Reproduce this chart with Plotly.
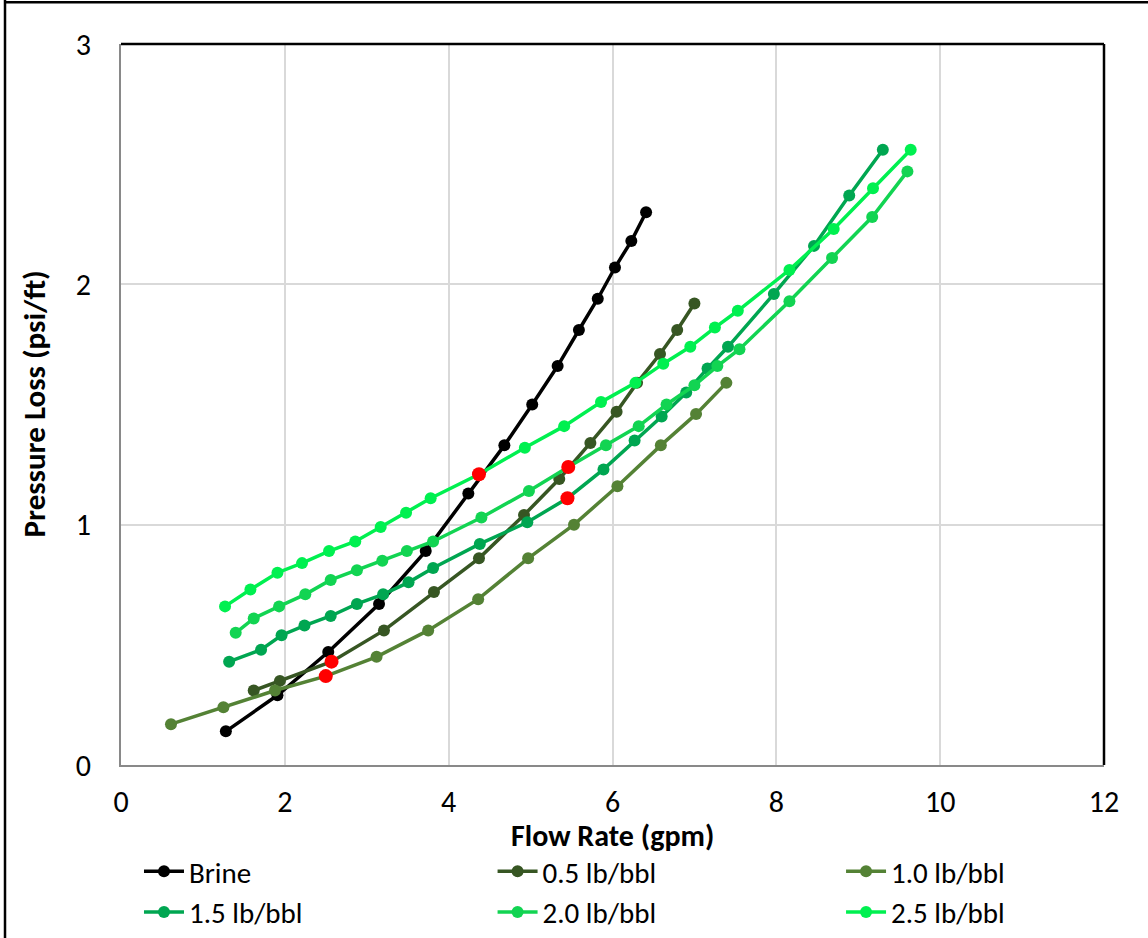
import plotly.graph_objects as go

# ---- data ----
brine_x = [1.28, 1.91, 2.53, 3.15, 3.72, 4.24, 4.68, 5.02, 5.33, 5.59, 5.82, 6.03, 6.23, 6.41]
brine_y = [0.14, 0.29, 0.47, 0.67, 0.89, 1.13, 1.33, 1.50, 1.66, 1.81, 1.94, 2.07, 2.18, 2.30]

p05_x = [1.62, 1.94, 2.57, 3.21, 3.82, 4.37, 4.92, 5.35, 5.73, 6.05, 6.30, 6.58, 6.79, 7.00]
p05_y = [0.31, 0.35, 0.43, 0.56, 0.72, 0.86, 1.04, 1.19, 1.34, 1.47, 1.59, 1.71, 1.81, 1.92]

p10_x = [0.61, 1.25, 1.88, 2.50, 3.12, 3.75, 4.36, 4.97, 5.53, 6.06, 6.59, 7.02, 7.39]
p10_y = [0.17, 0.24, 0.31, 0.37, 0.45, 0.56, 0.69, 0.86, 1.00, 1.16, 1.33, 1.46, 1.59]

p15_x = [1.32, 1.71, 1.96, 2.24, 2.56, 2.88, 3.20, 3.51, 3.81, 4.38, 4.96, 5.45, 5.89, 6.27,
         6.60, 6.90, 7.16, 7.41, 7.97, 8.46, 8.89, 9.30]
p15_y = [0.43, 0.48, 0.54, 0.58, 0.62, 0.67, 0.71, 0.76, 0.82, 0.92, 1.01, 1.11, 1.23, 1.35,
         1.45, 1.55, 1.65, 1.74, 1.96, 2.16, 2.37, 2.56]

p20_x = [1.40, 1.62, 1.93, 2.25, 2.56, 2.88, 3.19, 3.49, 3.81, 4.40, 4.98, 5.46, 5.92, 6.32,
         6.66, 7.00, 7.28, 7.55, 8.16, 8.68, 9.17, 9.60]
p20_y = [0.55, 0.61, 0.66, 0.71, 0.77, 0.81, 0.85, 0.89, 0.93, 1.03, 1.14, 1.24, 1.33, 1.41,
         1.50, 1.58, 1.66, 1.73, 1.93, 2.11, 2.28, 2.47]

p25_x = [1.27, 1.58, 1.91, 2.21, 2.54, 2.86, 3.17, 3.48, 3.78, 4.37, 4.93, 5.41, 5.86, 6.28,
         6.62, 6.95, 7.25, 7.53, 8.16, 8.70, 9.18, 9.64]
p25_y = [0.66, 0.73, 0.80, 0.84, 0.89, 0.93, 0.99, 1.05, 1.11, 1.21, 1.32, 1.41, 1.51, 1.59,
         1.67, 1.74, 1.82, 1.89, 2.06, 2.23, 2.40, 2.56]

series_names = ["Brine", "0.5 lb/bbl", "1.0 lb/bbl", "1.5 lb/bbl", "2.0 lb/bbl", "2.5 lb/bbl"]
series_colors = ["#000000", "#375623", "#548235", "#00A651", "#12D452", "#00F050"]
# legend column each series is shown in (3 columns x 2 rows, like the reference)
series_legend = ["legend", "legend2", "legend3", "legend", "legend2", "legend3"]
# index of the highlighted (red) point within each series, None if absent
red_index = [None, 2, 3, 11, 11, 9]

x_title = "<b>Flow Rate (gpm)</b>"
y_title = "<b>Pressure Loss (psi/ft)</b>"

xs = [brine_x, p05_x, p10_x, p15_x, p20_x, p25_x]
ys = [brine_y, p05_y, p10_y, p15_y, p20_y, p25_y]

FONT = "Carlito, Calibri, Lato, sans-serif"

fig = go.Figure()
for name, color, lg, x, y in zip(series_names, series_colors, series_legend, xs, ys):
    fig.add_trace(go.Scatter(
        x=x, y=y, name=name, mode="lines+markers", legend=lg,
        line=dict(color=color, width=3.5),
        marker=dict(color=color, size=12),
    ))

red_x = [xs[i][r] for i, r in enumerate(red_index) if r is not None]
red_y = [ys[i][r] for i, r in enumerate(red_index) if r is not None]
fig.add_trace(go.Scatter(
    x=red_x, y=red_y, mode="markers", showlegend=False,
    marker=dict(color="#FF0000", size=14),
))

legend_common = dict(orientation="v", yanchor="top", xanchor="left", y=-0.1123,
                     font=dict(family=FONT, size=29), itemwidth=40,
                     tracegroupgap=0, bgcolor="rgba(0,0,0,0)")

fig.update_layout(
    width=1148, height=938,
    margin=dict(l=121, r=44, t=44, b=173, autoexpand=False),
    paper_bgcolor="white", plot_bgcolor="white",
    font=dict(family=FONT, size=30, color="#000000"),
    showlegend=True,
    legend=dict(x=0.0183, **legend_common),
    legend2=dict(x=0.378, **legend_common),
    legend3=dict(x=0.7325, **legend_common),
    xaxis=dict(
        range=[0, 12], dtick=2, tick0=0,
        showgrid=True, gridcolor="#D9D9D9", gridwidth=2,
        showline=True, linecolor="#898989", linewidth=2,
        zeroline=False, ticks="", ticklabelstandoff=9,
        tickfont=dict(family=FONT, size=30),
    ),
    yaxis=dict(
        range=[0, 3], dtick=1, tick0=0,
        showgrid=True, gridcolor="#D9D9D9", gridwidth=2,
        showline=True, linecolor="#898989", linewidth=2,
        zeroline=False, ticks="", ticklabelstandoff=22,
        tickfont=dict(family=FONT, size=30),
    ),
    annotations=[
        dict(text=x_title, xref="paper", yref="paper", x=0.5, y=-0.0975,
             xanchor="center", yanchor="middle", showarrow=False,
             font=dict(family=FONT, size=30)),
        dict(text=y_title, xref="paper", yref="paper", x=-0.0895, y=0.5,
             xanchor="center", yanchor="middle", textangle=-90, showarrow=False,
             font=dict(family=FONT, size=31)),
    ],
    shapes=[
        # top & right frame of plot area
        dict(type="line", xref="paper", yref="paper", x0=0, x1=1, y0=1, y1=1,
             line=dict(color="#000000", width=2.5)),
        dict(type="line", xref="paper", yref="paper", x0=1, x1=1, y0=0, y1=1,
             line=dict(color="#000000", width=2.5)),
        # outer chart border (left & top)
        dict(type="line", xref="paper", yref="paper", x0=-0.118, x1=-0.118, y0=-0.26, y1=1.07,
             line=dict(color="#000000", width=2.5)),
        dict(type="line", xref="paper", yref="paper", x0=-0.118, x1=1.05, y0=1.0580, y1=1.0580,
             line=dict(color="#000000", width=2.5)),
    ],
)

fig.write_html("out.html")
